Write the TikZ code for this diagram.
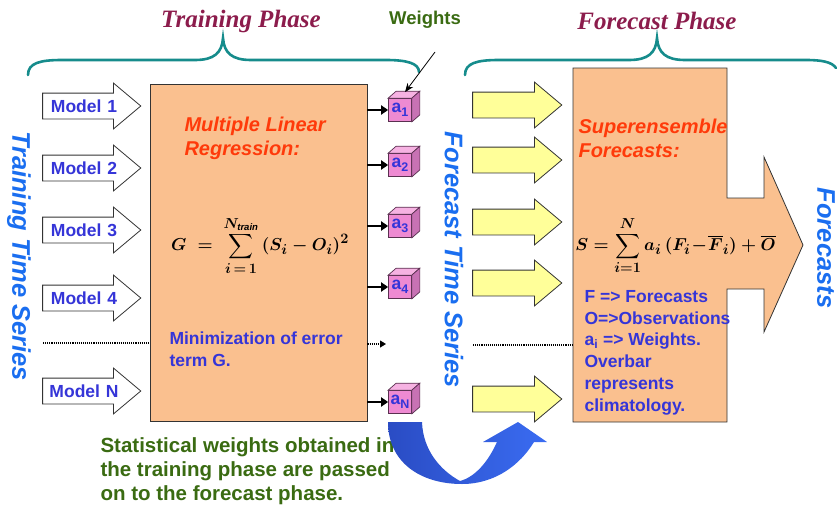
\documentclass[tikz,border=0pt]{standalone}
\usepackage{amsmath}
\usepackage{fontspec}
\setmainfont{Liberation Sans}
\newfontfamily\titlefont{Liberation Serif}
\usetikzlibrary{shapes.arrows,arrows.meta,calc}
\definecolor{ofill}{HTML}{FAC08F}
\definecolor{edge}{HTML}{333333}
\definecolor{yfill}{HTML}{FFFF99}
\definecolor{cubefront}{HTML}{EE8AD2}
\definecolor{cubetop}{HTML}{F6B2E2}
\definecolor{cubeside}{HTML}{C872B4}
\definecolor{cubeedge}{HTML}{5A3050}
\definecolor{mblue}{HTML}{3535D8}
\definecolor{vblue}{HTML}{1A6EF0}
\definecolor{redor}{HTML}{FF3A0A}
\definecolor{formc}{HTML}{D4471F}
\definecolor{dgreen}{HTML}{3A6B12}
\definecolor{maroon}{HTML}{8C1C4C}
\definecolor{tealc}{HTML}{168C8C}
\definecolor{arrA}{HTML}{2A4CC4}
\definecolor{arrB}{HTML}{3A6CF2}
\newsavebox{\gbox}
\newsavebox{\sbx}
\newcommand{\subx}[1]{\raisebox{-4pt}{\fontsize{12.5}{12.5}\selectfont #1}}
\begin{document}
\sbox{\gbox}{\fontsize{19}{23}\selectfont\boldmath$\displaystyle G\;=\;\sum_{i\,=\,1}^{N_{\mathit{train}}}\,(S_{i}-O_{i})^{2}$}
\sbox{\sbx}{\fontsize{19}{23}\selectfont\boldmath$\displaystyle S=\sum_{i=1}^{N}a_{i}\,(F_{i}\!-\!\overline{F}_{i})+\overline{O}$}
\begin{tikzpicture}[x=1pt,y=-1pt,
  blockarrow/.style={single arrow, draw=edge, line width=0.8pt,
    single arrow head extend=10pt, single arrow tip angle=80,
    single arrow head indent=0pt, inner xsep=0pt, inner ysep=0pt,
    text height=18.5pt, text depth=6.5pt, align=center},
  modelarr/.style={blockarrow, fill=white, text width=82pt,
    font=\bfseries\fontsize{17.5}{20}\selectfont, text=mblue},
  yarr/.style={blockarrow, fill=yfill, text width=73pt},
  obox/.style={draw=edge, line width=0.8pt, fill=ofill, inner sep=0pt},
  cube/.style={draw=cubeedge, line width=0.7pt, fill=cubefront, minimum size=23pt,
    inner sep=0pt, font=\bfseries\fontsize{17.5}{17.5}\selectfont, text=mblue},
  thickarr/.style={line width=2.4pt, -{Triangle[length=7pt,width=9pt]}},
  phase/.style={font=\titlefont\bfseries\itshape\fontsize{25}{28}\selectfont, text=maroon},
  brace/.style={draw=tealc, line width=2.6pt, line cap=round},
  vtext/.style={rotate=-90, font=\bfseries\itshape\fontsize{25.5}{28}\selectfont, text=vblue},
  headtext/.style={font=\bfseries\itshape\fontsize{20}{24}\selectfont, text=redor, align=left, anchor=west},
  formula/.style={text=formc},
  bluetext/.style={font=\bfseries\fontsize{17.5}{21.7}\selectfont, text=mblue, align=left},
  greentext/.style={font=\bfseries\fontsize{20.5}{24}\selectfont, text=dgreen, align=left, anchor=west},
  dotline/.style={densely dotted, line width=1.1pt}
]
\useasboundingbox (0,0) rectangle (838,506);

% braces
\path[brace] (28,75) .. controls (28,63) and (40,60) .. (62,60) -- (195,60)
  .. controls (214,60) and (222,53) .. (223,38) .. controls (224,53) and (232,60) .. (251,60)
  -- (386,60) .. controls (406,60) and (419,63) .. (419,72);
\path[brace] (465,75) .. controls (465,63) and (477,60) .. (499,60) -- (629,60)
  .. controls (648,60) and (656,53) .. (657,38) .. controls (658,53) and (666,60) .. (685,60)
  -- (806,60) .. controls (822,60) and (832,62) .. (836,68);

\node[phase] (tp) at (241,21) {Training Phase};
\node[phase] (fp) at (657,21) {Forecast Phase};
\node[font=\bfseries\fontsize{18.5}{20}\selectfont, text=dgreen] (wts) at (425,20) {Weights};

% training box
\node[obox, minimum width=217pt, minimum height=337pt] (train) at (258.5,252.5) {};

% model arrows
\node[modelarr] (m1) at (84,106) {Model 1};
\node[modelarr] (m2) at (84,168) {Model 2};
\node[modelarr] (m3) at (84,230) {Model 3};
\node[modelarr] (m4) at (84,298) {Model 4};
\node[modelarr] (mN) at (84,391) {Model N};
\coordinate (dl) at (43,343);
\draw[dotline] (dl) -- (dl -| train.west);

% texts in training box
\node[headtext] (mlr) at (181,138) {Multiple Linear\\Regression:};
\node[formula] (geqn) at (260,246) {\usebox{\gbox}};
\node[bluetext, anchor=west] (mini) at (166,349) {Minimization of error\\term G.};

% cubes
\node[cube] (a1) at (400,110) {a\subx{1}};
\node[cube] (a2) at (400,165) {a\subx{2}};
\node[cube] (a3) at (400,226) {a\subx{3}};
\node[cube] (a4) at (400,287) {a\subx{4}};
\node[cube] (aN) at (400,402) {a\subx{N}};
\foreach \c in {a1,a2,a3,a4,aN}{
  \filldraw[fill=cubetop, draw=cubeedge, line width=0.7pt]
    (\c.north west) -- ++(8,-7) -- ($(\c.north east)+(8,-7)$) -- (\c.north east) -- cycle;
  \filldraw[fill=cubeside, draw=cubeedge, line width=0.7pt]
    (\c.north east) -- ++(8,-7) -- ($(\c.south east)+(8,-7)$) -- (\c.south east) -- cycle;
  \draw[thickarr] (train.east |- \c.west) -- (\c.west);
}
\coordinate (dr) at (386,344);
\draw[dotline, -{Triangle[length=6pt,width=7pt]}] (train.east |- dr) -- (dr);

% weights pointer
\coordinate (wp) at (435,52);
\draw[line width=0.8pt, -{Stealth[length=9pt,width=7pt]}] (wp) -- ($(a1.north)+(5,-6)$);

% vertical labels
\node[vtext] (tts) at (19,256) {Training Time Series};
\node[vtext] (fts) at (454,260) {Forecast Time Series};
\node[vtext] (fcs) at (826,248) {Forecasts};

% forecast shape
\filldraw[fill=ofill, draw=edge, line width=0.8pt]
  (573,68) -- (727,68) -- (727,198) -- (764,198) -- (764,157) -- (803,245)
  -- (764,332) -- (764,289) -- (727,289) -- (727,422) -- (573,422) -- cycle;
\coordinate (fc) at (573,245);

% yellow arrows
\node[yarr] (y1) at (509.5,105) {};
\node[yarr] (y2) at (509.5,160) {};
\node[yarr] (y3) at (509.5,222) {};
\node[yarr] (y4) at (509.5,283) {};
\node[yarr] (yN) at (509.5,399) {};
\coordinate (df) at (473,345);
\draw[dotline] (df) -- (df -| fc);

% forecast texts
\node[headtext] (sef) at (575,138) {Superensemble\\Forecasts:};
\node[formula] (seqn) at (675.5,246) {\usebox{\sbx}};
\node[bluetext, anchor=north west] (legend) at (581,287)
  {F => Forecasts\\O=>Observations\\a\textsubscript{i} => Weights.\\Overbar\\represents\\climatology.};

% bottom note
\node[greentext] (note) at (97,471)
  {Statistical weights obtained in\\the training phase are passed\\on to the forecast phase.};

% blue curved arrow
\path[left color=arrA, right color=arrB]
  (388,422) .. controls (388,462) and (420,484) .. (462,484)
  .. controls (495,484) and (520,465) .. (534,442) -- (547,442) -- (518,422) -- (483,442)
  -- (497,442) .. controls (488,462) and (475,477) .. (460,481)
  .. controls (440,470) and (423,450) .. (422,422) -- cycle;
\end{tikzpicture}
\end{document}
